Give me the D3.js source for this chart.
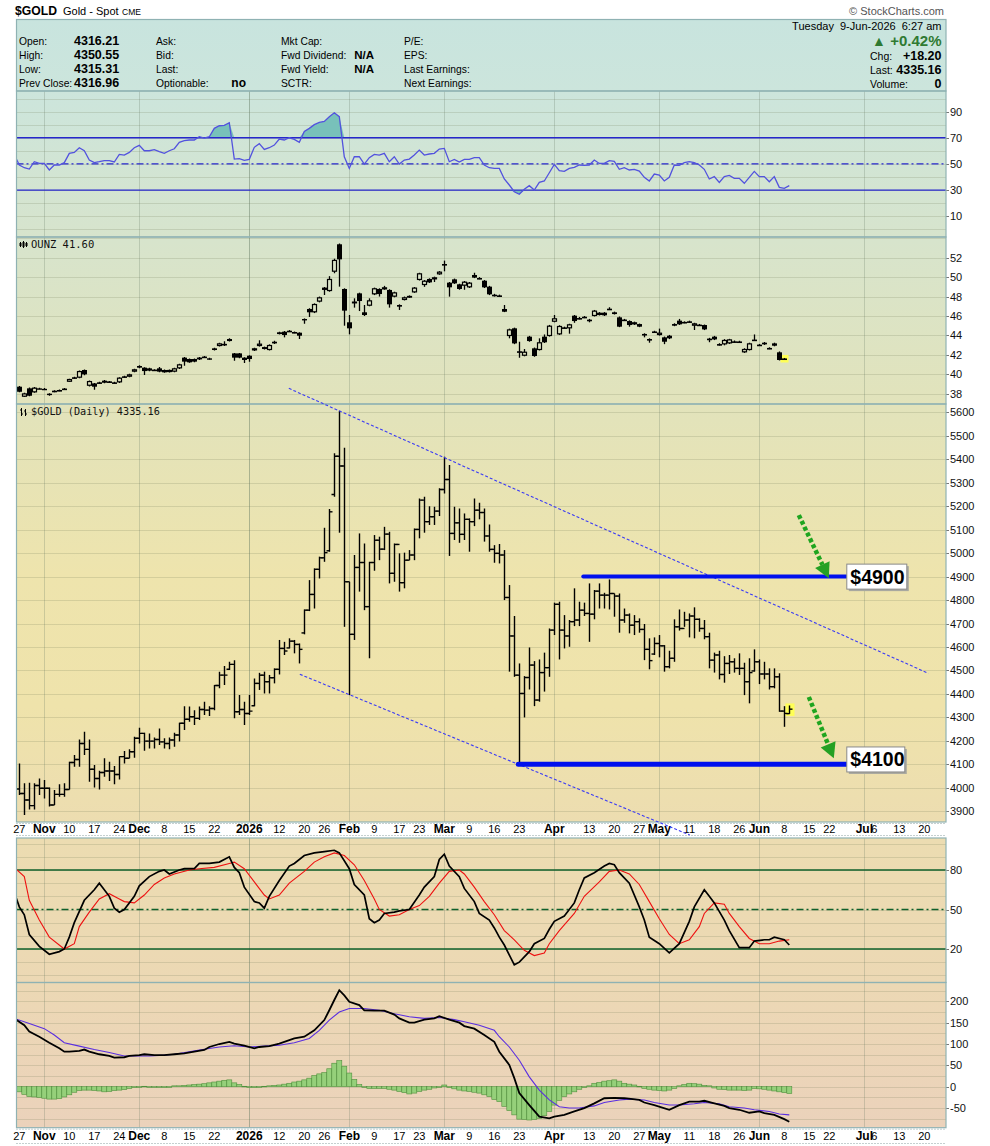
<!DOCTYPE html>
<html><head><meta charset="utf-8"><title>$GOLD</title>
<script src="https://cdn.jsdelivr.net/npm/d3@7/dist/d3.min.js"></script>
<style>html,body{margin:0;padding:0;background:#fff}</style>
</head><body>
<svg id="chart" width="990" height="1146" xmlns="http://www.w3.org/2000/svg"></svg>
<script>
// ================= DATA =================
const holidays = ["2025-11-27","2025-12-25","2026-01-01","2026-01-19","2026-02-16","2026-04-03","2026-05-25","2026-06-19","2026-07-03"];
const monthStarts = ["2025-11-03","2025-12-01","2026-01-02","2026-02-02","2026-03-02","2026-04-01","2026-05-01","2026-06-01","2026-07-01"];
const yearStart = "2026-01-02";
const xTickLabels = [
 ["2025-10-27","27",0],["2025-11-03","Nov",1],["2025-11-10","10",0],["2025-11-17","17",0],["2025-11-24","24",0],
 ["2025-12-01","Dec",1],["2025-12-08","8",0],["2025-12-15","15",0],["2025-12-22","22",0],["2026-01-02","2026",1],
 ["2026-01-12","12",0],["2026-01-20","20",0],["2026-01-26","26",0],["2026-02-02","Feb",1],["2026-02-09","9",0],
 ["2026-02-17","17",0],["2026-02-23","23",0],["2026-03-02","Mar",1],["2026-03-09","9",0],["2026-03-16","16",0],
 ["2026-03-23","23",0],["2026-04-01","Apr",1],["2026-04-13","13",0],["2026-04-20","20",0],["2026-04-27","27",0],
 ["2026-05-01","May",1],["2026-05-11","11",0],["2026-05-18","18",0],["2026-05-26","26",0],["2026-06-01","Jun",1],
 ["2026-06-08","8",0],["2026-06-15","15",0],["2026-06-22","22",0],["2026-07-01","Jul",1],["2026-07-06","6",0],
 ["2026-07-13","13",0],["2026-07-20","20",0]
];
const rsiTicks = [10,30,50,70,90];
const ounzTicks = [38,40,42,44,46,48,50,52];
const goldTicks = [3900,4000,4100,4200,4300,4400,4500,4600,4700,4800,4900,5000,5100,5200,5300,5400,5500,5600];
const stochTicks = [20,50,80];
const macdTicks = [-50,0,50,100,150,200];

// $GOLD daily OHLC (day 0 = 27-Oct-2025)
const goldOpen = [3995,3976,3948,3924,4010,3998,3998,3927,3972,3972,
3993,4108,4121,4189,4164,4079,4040,4065,4072,4072,
4057,4133,4126,4154,4211,4232,4199,4199,4206,4196,
4189,4204,4225,4275,4292,4303,4296,4334,4331,4338,
4436,4480,4505,4526,4324,4334,4317,4350,4445,4480,
4452,4469,4505,4594,4596,4625,4611,4660,4757,4824,
4931,4980,5010,5250,5413,5371,4878,4654,4939,4960,
4772,4960,5055,5017,5081,4914,5037,4874,4970,4992,
5101,5226,5134,5155,5179,5271,5314,5084,5129,5080,
5144,5134,5183,5173,5073,5016,4999,4992,4811,4647,
4480,4402,4470,4523,4374,4491,4512,4672,4782,4672,
4647,4708,4715,4757,4743,4740,4838,4821,4821,4828,
4817,4715,4736,4693,4708,4675,4590,4570,4615,4605,
4516,4552,4686,4679,4715,4732,4718,4679,4644,4544,
4566,4483,4530,4537,4509,4509,4452,4498,4537,4485,
4485,4431,4473,4327,4316];
const goldHigh = [4104,4019,4022,4019,4040,4033,4001,3991,4015,4019,
4111,4140,4206,4239,4206,4097,4073,4126,4111,4093,
4135,4157,4164,4218,4256,4235,4232,4214,4253,4211,
4214,4235,4277,4348,4346,4331,4346,4367,4348,4438,
4495,4519,4537,4544,4395,4367,4395,4466,4490,4495,
4481,4509,4630,4622,4637,4630,4615,4760,4885,4935,
4985,5108,5188,5425,5607,5449,4878,4992,5084,5041,
4963,5077,5070,5112,5091,5041,4999,5002,5013,5105,
5233,5240,5200,5198,5276,5411,5375,5198,5190,5169,
5148,5233,5215,5190,5122,5034,5039,5013,4864,4732,
4530,4476,4598,4540,4547,4576,4679,4789,4793,4736,
4715,4850,4793,4789,4871,4843,4871,4831,4888,4828,
4828,4764,4743,4736,4722,4698,4637,4641,4651,4608,
4584,4718,4760,4750,4743,4769,4722,4715,4661,4576,
4584,4561,4566,4552,4573,4533,4552,4590,4547,4537,
4509,4509,4488,4348,4351];
const goldLow = [3969,3884,3908,3908,3969,3955,3920,3927,3962,3962,
3993,4090,4090,4140,4026,4001,3993,4047,4029,4015,
4036,4104,4126,4128,4189,4158,4168,4168,4182,4168,
4164,4175,4197,4246,4282,4268,4289,4310,4306,4331,
4424,4438,4502,4296,4310,4268,4310,4348,4417,4402,
4402,4445,4483,4566,4594,4573,4530,4654,4753,4764,
4892,4963,5006,5240,5087,4686,4395,4630,4836,4757,
4552,4925,4970,5013,4871,4878,4836,4850,4970,4970,
5063,5087,5120,5120,5158,5254,4988,5056,5044,5056,
5006,5115,5144,5049,5006,4959,4956,4800,4495,4473,
4097,4300,4419,4348,4367,4410,4473,4651,4547,4594,
4601,4689,4689,4732,4622,4718,4764,4764,4760,4729,
4661,4703,4658,4651,4661,4544,4505,4566,4556,4495,
4509,4537,4670,4686,4641,4637,4665,4633,4509,4491,
4462,4448,4485,4491,4481,4395,4360,4495,4442,4462,
4419,4424,4324,4260,4315];
const goldClose = [3976,3948,3924,4010,3998,3998,3927,3972,3972,3993,
4108,4121,4189,4164,4079,4040,4065,4072,4072,4057,
4133,4126,4154,4211,4232,4199,4199,4206,4196,4189,
4204,4225,4275,4292,4303,4296,4334,4331,4338,4436,
4480,4480,4526,4324,4334,4317,4327,4445,4480,4452,
4469,4505,4594,4583,4625,4611,4590,4757,4824,4931,
4980,5002,5176,5413,5371,4878,4654,4939,4960,4772,
4960,5055,5017,5081,4914,5037,4874,4970,4992,5101,
5226,5134,5155,5179,5271,5314,5084,5129,5080,5144,
5134,5183,5173,5073,5016,4999,4992,4811,4647,4480,
4402,4470,4523,4374,4491,4512,4672,4782,4672,4647,
4708,4715,4757,4743,4740,4838,4821,4821,4828,4817,
4715,4736,4693,4708,4675,4590,4542,4615,4605,4516,
4552,4686,4679,4715,4732,4718,4679,4644,4544,4566,
4483,4530,4537,4509,4509,4452,4491,4537,4485,4485,
4431,4473,4327,4317,4335.16];

// OUNZ daily candles (day 0 .. 153)
const ounzOpen = [38.72,37.69,38.55,38.14,38.55,38.50,38.00,38.25,38.32,38.46,
39.23,39.62,39.65,40.44,38.82,39.06,39.10,39.34,39.20,39.12,
39.17,39.72,39.75,40.27,40.85,40.68,40.61,40.42,40.61,40.44,
40.23,40.27,40.61,41.71,41.57,41.57,41.54,41.76,41.64,42.67,
42.91,43.06,43.63,42.15,42.15,41.71,41.91,42.46,42.91,42.80,
42.50,43.35,44.32,44.38,44.42,44.30,44.28,45.69,46.72,46.38,
47.48,48.92,48.57,50.56,53.38,48.78,45.35,47.30,48.33,46.38,
47.06,48.23,48.78,48.74,48.68,47.99,47.13,47.65,47.89,48.43,
49.71,49.19,49.81,49.77,50.29,51.30,49.43,49.77,49.26,49.12,
48.95,50.22,49.86,49.63,49.02,48.14,48.07,46.72,43.94,44.73,
42.30,41.91,43.87,42.67,42.50,43.87,43.94,45.41,44.11,44.78,
44.73,46.03,45.74,45.87,45.57,46.00,46.34,46.34,46.70,46.38,
45.86,45.58,45.48,45.14,45.17,44.10,43.58,44.36,44.04,43.80,
43.97,45.17,45.52,45.34,45.40,45.00,45.06,45.07,43.62,43.87,
43.06,43.08,43.18,43.34,43.33,42.26,42.50,43.52,43.00,43.25,
42.66,43.18,42.26,41.58];
const ounzHigh = [38.80,38.10,38.65,38.68,38.62,38.58,38.05,38.35,38.42,38.58,
39.55,39.75,40.40,40.50,39.35,39.10,39.22,39.40,39.32,39.22,
39.70,39.85,40.05,40.58,40.92,40.72,40.66,40.52,40.75,40.50,
40.50,40.66,41.08,41.78,41.62,41.62,41.78,41.88,41.70,42.72,
43.25,43.40,43.70,42.20,42.20,41.75,41.95,42.72,43.50,42.85,
43.08,43.45,44.38,44.45,44.55,44.40,44.32,45.75,46.80,47.30,
48.00,48.98,50.10,51.90,53.45,48.85,46.10,47.82,48.40,47.13,
47.82,48.92,48.85,49.10,48.75,48.50,47.20,48.00,48.12,48.98,
50.45,49.70,49.88,50.05,50.62,51.70,49.50,49.85,49.32,49.60,
49.50,50.45,50.00,49.70,49.10,48.28,48.20,47.13,44.70,44.80,
43.35,42.60,43.95,42.75,43.70,44.10,45.08,46.10,45.05,44.90,
45.20,46.10,45.90,46.00,45.70,46.62,46.40,46.40,46.90,46.45,
45.95,45.70,45.55,45.42,45.22,44.22,43.70,44.48,44.70,43.88,
44.05,45.25,45.70,45.45,45.52,45.30,45.18,45.12,43.75,43.95,
43.20,43.62,43.65,43.48,43.45,42.68,43.25,44.10,43.12,43.32,
42.78,43.25,42.35,41.68];
const ounzLow = [38.15,37.65,37.75,38.10,38.45,38.40,37.80,38.15,38.25,38.40,
39.20,39.55,39.60,39.90,38.75,38.40,39.02,39.08,39.12,39.05,
39.10,39.65,39.70,40.22,40.62,39.92,40.30,40.35,40.22,40.15,
40.18,40.22,40.55,40.88,41.18,41.25,41.48,41.70,41.50,42.45,
42.85,42.90,43.38,41.40,41.65,41.15,41.30,42.40,42.85,42.55,
42.45,43.12,44.10,43.80,44.35,44.22,43.63,45.20,45.90,46.30,
47.40,48.16,48.50,50.40,49.02,45.00,44.11,46.86,46.51,46.00,
47.00,48.15,48.00,48.70,46.86,47.92,46.62,47.60,47.85,48.38,
49.65,49.00,49.40,49.50,50.24,50.60,47.99,49.30,48.70,48.70,
48.88,49.90,49.78,48.88,48.15,48.00,47.95,46.40,43.70,43.10,
41.70,41.85,43.35,41.80,42.45,43.22,43.88,45.35,44.05,44.70,
44.18,45.30,45.65,45.78,45.35,45.95,46.05,46.00,46.62,46.15,
44.85,45.50,44.90,45.08,44.85,43.80,43.25,44.28,43.98,43.10,
43.62,44.95,45.08,45.25,45.32,44.56,44.98,44.55,43.30,43.52,
42.95,42.98,43.12,43.25,43.25,42.20,42.45,43.45,42.92,43.02,
42.58,42.88,41.42,41.52];
const ounzClose = [38.20,38.03,37.79,38.62,38.52,38.46,37.86,38.28,38.35,38.50,
39.51,39.66,40.33,39.99,39.30,38.72,39.14,39.13,39.24,39.14,
39.65,39.76,39.99,40.51,40.68,40.33,40.37,40.45,40.27,40.20,
40.44,40.61,41.02,41.30,41.23,41.30,41.71,41.79,41.54,42.50,
43.18,43.10,43.42,41.71,41.71,41.47,41.57,42.67,43.15,42.60,
43.01,43.18,44.14,44.04,44.45,44.32,43.97,45.55,46.38,47.23,
47.92,48.68,49.81,51.77,51.83,46.55,44.73,47.48,47.54,46.10,
47.61,48.85,48.26,48.95,47.20,48.43,46.96,47.92,48.06,48.92,
50.39,49.63,49.46,49.98,50.56,51.32,48.95,49.36,48.78,49.53,
49.43,49.95,49.88,48.95,48.23,48.16,48.09,46.44,44.62,43.18,
42.34,42.32,43.42,41.88,43.29,43.29,45.00,45.76,44.97,44.80,
45.14,45.48,45.76,45.89,45.59,46.55,46.10,46.07,46.72,46.20,
44.90,45.60,45.07,45.35,44.90,44.12,43.60,44.38,44.28,43.35,
43.70,45.00,45.14,45.36,45.42,45.24,45.08,44.62,43.64,43.59,
43.08,43.53,43.59,43.36,43.35,42.60,43.18,43.54,43.02,43.08,
42.68,42.94,41.47,41.60];

// RSI(14) of $GOLD, first value is day -1
const rsiFirstDay = -1;
const rsiValues = [57.0,
49.2,47.1,46.1,51.7,50.4,50.4,45.4,49.2,49.2,51.0,
58.1,58.8,62.4,60.1,53.0,51.0,51.7,52.5,52.5,51.5,
57.3,56.8,58.8,62.4,64.2,60.1,60.1,60.9,59.4,58.1,
60.1,61.6,66.5,67.8,68.3,68.3,70.8,69.8,70.8,77.2,
79.2,79.5,81.5,53.7,54.0,52.7,53.5,62.7,65.5,61.1,
62.4,64.4,69.0,68.3,70.0,68.8,66.5,74.9,77.2,80.0,
81.7,82.5,86.1,89.1,86.1,55.5,46.6,55.5,55.5,49.9,
54.8,57.3,56.8,58.1,51.7,55.5,49.9,53.0,53.7,56.8,
60.6,56.8,57.6,58.1,61.4,61.9,51.7,53.5,51.5,53.5,
53.5,54.8,54.8,49.2,47.1,46.6,46.6,38.5,33.9,28.8,
26.8,30.6,33.4,30.1,35.9,37.0,43.3,49.7,44.8,44.3,
46.6,47.4,49.2,48.9,49.2,53.0,50.4,50.4,52.5,52.0,
45.9,47.1,45.4,45.9,44.6,39.8,37.0,42.3,41.5,37.0,
39.8,49.2,48.9,51.0,51.7,51.0,49.2,45.9,38.5,40.3,
35.9,40.3,41.3,39.0,39.0,35.2,39.8,44.3,40.3,40.3,
36.4,40.3,32.1,31.4,33.4];

// Slow stochastic [day, value]
const stochK = [[-1,63],[0,52],[1,46],[2,31],[4,22],[6,16],[8,18],[9,20],[10,29],[11,40],[13,57],[15,65],[16,70],[18,60],[19,51],[20,48],[21,50],[23,60],[24,68],[26,75],[28,79],[29,80],[30,77],[32,80],[33,81],[35,81],[36,85],[38,85],[40,86],[42,90],[43,82],[44,78],[45,67],[47,56],[48,55],[49,51],[50,60],[52,72],[54,83],[55,85],[57,91],[59,93],[61,94],[63,95],[64,93],[66,81],[67,69],[69,61],[70,43],[71,40],[72,42],[73,47],[75,48],[76,49],[78,50],[80,61],[81,67],[83,75],[84,88],[85,92],[86,83],[88,75],[89,66],[91,56],[92,47],[94,42],[95,36],[96,29],[97,23],[99,8],[100,10],[102,18],[103,24],[105,28],[106,35],[107,41],[109,45],[111,55],[112,65],[113,74],[115,78],[117,83],[118,85],[119,84],[120,78],[122,70],[124,52],[125,42],[126,29],[128,24],[130,17],[132,24],[134,41],[135,52],[137,65],[138,60],[139,55],[141,42],[142,34],[144,21],[146,21],[147,26],[149,27],[150,27],[151,29],[153,27],[154,23]];
const stochD = [[-1,82],[1,75],[2,57],[4,42],[6,29],[9,20],[11,24],[12,37],[14,48],[16,58],[18,62],[20,58],[21,56],[23,55],[25,61],[27,69],[29,74],[31,77],[34,80],[36,81],[39,82],[42,85],[43,86],[45,81],[47,71],[49,61],[50,58],[52,61],[54,70],[57,79],[59,86],[61,90],[63,93],[65,91],[67,84],[69,72],[71,58],[72,50],[74,45],[76,46],[78,50],[80,53],[82,60],[84,70],[86,79],[88,80],[89,77],[91,67],[93,56],[95,46],[97,34],[99,27],[101,19],[103,15],[105,17],[106,24],[108,34],[111,47],[113,60],[116,71],[118,79],[120,80],[122,77],[124,69],[126,56],[128,43],[130,31],[132,24],[134,27],[136,37],[137,47],[139,55],[141,54],[142,47],[144,37],[146,28],[148,24],[150,24],[152,26],[154,27]];

// MACD [day, value]
const macdLine = [[-1,160],[1,144],[2,129],[4,117],[6,103],[8,90],[9,82],[10,82],[12,84],[13,87],[14,82],[16,76],[18,72],[19,68],[21,69],[22,72],[24,74],[25,76],[27,74],[29,74],[31,76],[33,78],[35,82],[37,86],[38,93],[40,100],[42,105],[43,101],[45,96],[47,90],[48,93],[50,95],[52,101],[54,109],[55,113],[57,117],[59,132],[61,156],[62,179],[63,203],[64,226],[65,214],[66,199],[68,191],[69,179],[71,178],[73,178],[75,169],[76,160],[78,150],[79,150],[81,157],[83,160],[84,165],[86,157],[88,150],[89,142],[91,136],[93,121],[95,105],[96,82],[98,51],[99,20],[100,-15],[102,-43],[104,-70],[106,-74],[107,-70],[109,-66],[111,-58],[113,-50],[115,-39],[117,-27],[119,-26],[121,-27],[124,-31],[125,-37],[127,-43],[130,-54],[132,-43],[134,-35],[136,-35],[137,-33],[139,-39],[141,-45],[142,-50],[144,-54],[146,-61],[148,-58],[149,-62],[151,-66],[153,-76],[154,-82]];
const macdSignal = [[-1,160],[2,148],[5,136],[7,121],[9,103],[12,95],[15,87],[18,80],[21,72],[24,72],[26,72],[29,74],[31,76],[34,82],[36,86],[40,93],[43,96],[46,93],[49,95],[52,97],[55,103],[58,113],[60,132],[62,156],[64,175],[66,183],[69,183],[72,179],[75,171],[78,164],[81,160],[84,162],[87,157],[89,152],[92,144],[95,132],[96,117],[98,93],[100,62],[102,23],[104,-8],[106,-31],[108,-47],[110,-50],[112,-50],[115,-45],[117,-37],[120,-31],[122,-29],[125,-31],[127,-37],[130,-43],[132,-43],[135,-40],[137,-37],[140,-40],[142,-47],[145,-50],[147,-54],[150,-58],[152,-64],[154,-66]];
const macdHist = [-12,-18,-23,-24,-25,-27,-29,-29,-28,-24,
-19,-13,-9,-8,-8,-9,-10,-12,-11,-9,
-8,-7,-4,-2,0,1,0,-1,-1,-2,
0,2,2,3,4,5,6,7,9,11,
13,15,16,9,5,1,-2,-2,0,1,
2,3,4,6,8,11,13,16,20,26,
30,33,42,55,61,48,32,17,5,-1,
-4,-4,-4,-4,-6,-8,-11,-14,-17,-15,
-11,-8,-6,-3,-1,4,-2,-5,-8,-10,
-11,-13,-15,-19,-23,-30,-35,-46,-56,-66,
-76,-77,-78,-77,-74,-68,-58,-43,-32,-23,
-17,-12,-6,-2,2,8,10,13,14,16,
13,8,6,4,1,-4,-6,-8,-9,-10,
-8,-4,2,5,8,7,6,3,2,-3,
-6,-7,-8,-8,-8,-9,-8,-4,-5,-6,
-8,-10,-12,-14,-16];

// Annotations (day index, price)
const trendLines = [
  {d0:53.9, p0:5702, d1:181.8, p1:4488},
  {d0:56.1, p0:4484, d1:134.1, p1:3799}
];
const levelLines = [
  {price:4900, d0:112.8, d1:165.4, width:4, label:"$4900", boxPrice:4902, boxW:60},
  {price:4100, d0:99.8, d1:165.4, width:5, label:"$4100", boxPrice:4123, boxW:58}
];
const arrows = [
  {d0:155.9, p0:5162, d1:161.9, p1:4893},
  {d0:157.9, p0:4387, d1:162.9, p1:4126}
];

const headerLeft = [
  ["Open:","4316.21","Ask:","","Mkt Cap:","","P/E:"],
  ["High:","4350.55","Bid:","","Fwd Dividend:","N/A","EPS:"],
  ["Low:","4315.31","Last:","","Fwd Yield:","N/A","Last Earnings:"],
  ["Prev Close:","4316.96","Optionable:","no","SCTR:","","Next Earnings:"]
];
const headerRight = [["Chg:","+18.20"],["Last:","4335.16"],["Volume:","0"]];

// ================= RENDER =================
const FONT = '"Liberation Sans", Arial, Helvetica, sans-serif';
const MONO = '"DejaVu Sans Mono", "Liberation Mono", monospace';
const svg = d3.select('#chart');
svg.append('rect').attr('width',990).attr('height',1146).attr('fill','#fff');
const defs = svg.append('defs');
const bg = defs.append('linearGradient').attr('id','bg').attr('gradientUnits','userSpaceOnUse')
  .attr('x1',0).attr('y1',19).attr('x2',0).attr('y2',1128);
[[0,"#c8e4de"],[0.065,"#cce5dc"],[0.2,"#d7e4cc"],[0.35,"#e2e3bb"],[0.5,"#eee4ad"],[0.62,"#efe3ab"],[0.74,"#ecdcb1"],[0.87,"#ecd8b4"],[1,"#ebd2bb"]]
  .forEach(([o,c]) => bg.append('stop').attr('offset',o).attr('stop-color',c));

const tradingDays = [];
for (let t = Date.UTC(2025,9,27); t <= Date.UTC(2026,7,20); t += 86400000) {
  const d = new Date(t), wd = d.getUTCDay(), s = d.toISOString().slice(0,10);
  if (wd === 0 || wd === 6 || holidays.includes(s)) continue;
  tradingDays.push(s);
}
const dayOf = s => tradingDays.indexOf(s);

const xL = 16.5, xR = 946;
const x = d3.scaleLinear().domain([-0.56, 185.34]).range([xL, xR]);
const px = i => Math.round(x(i)) + 0.5;

const panels = {
  rsi:   {top:91,    bottom:237,    y:d3.scaleLinear().domain([0,100]).range([229.4,98.5]),   grid:d3.range(0,101,10), ticks:rsiTicks},
  ounz:  {top:237,   bottom:404,    y:d3.scaleLinear().domain([38,52]).range([393.7,257.7]),  grid:d3.range(36,56,2),  ticks:ounzTicks},
  gold:  {top:404,   bottom:822,    y:d3.scaleLinear().domain([3900,5600]).range([811.3,412.3]), grid:d3.range(3800,5701,100), ticks:goldTicks},
  stoch: {top:838,   bottom:982.5,  y:d3.scaleLinear().domain([0,100]).range([975.3,843.7]),  grid:d3.range(0,101,10), ticks:stochTicks},
  macd:  {top:982.5, bottom:1127.7, y:d3.scaleLinear().domain([-50,200]).range([1108.05,1001.3]), grid:d3.range(-100,251,25), ticks:macdTicks}
};

Object.entries(panels).forEach(([id,p]) => {
  svg.append('rect').attr('x',xL).attr('y',p.top).attr('width',xR-xL).attr('height',p.bottom-p.top).attr('fill','url(#bg)');
  defs.append('clipPath').attr('id','clip-'+id).append('rect')
    .attr('x',xL).attr('y',p.top).attr('width',xR-xL).attr('height',p.bottom-p.top);
  const gg = svg.append('g').attr('clip-path',`url(#clip-${id})`);
  p.grid.forEach(v => {
    const yy = Math.round(p.y(v)) + 0.5;
    gg.append('line').attr('x1',xL).attr('x2',xR).attr('y1',yy).attr('y2',yy)
      .attr('stroke','#6f7a55').attr('stroke-opacity',0.2).attr('stroke-width',1);
  });
  monthStarts.forEach(s => {
    const xx = px(dayOf(s));
    gg.append('line').attr('x1',xx).attr('x2',xx).attr('y1',p.top).attr('y2',p.bottom)
      .attr('stroke','#5f7560').attr('stroke-opacity', s === yearStart ? 0.45 : 0.25).attr('stroke-width',1);
  });
  p.layer = svg.append('g').attr('clip-path',`url(#clip-${id})`);
  p.ticks.forEach(v => {
    const yy = p.y(v);
    svg.append('line').attr('x1',xR).attr('x2',xR+3).attr('y1',Math.round(yy)+0.5).attr('y2',Math.round(yy)+0.5)
      .attr('stroke','#777').attr('stroke-width',1);
    svg.append('text').attr('x',950).attr('y',yy+4).attr('font-family',FONT).attr('font-size',11)
      .attr('fill','#111').text(v);
  });
});

// header
svg.append('rect').attr('x',xL).attr('y',19.5).attr('width',xR-xL).attr('height',71.5)
  .attr('fill','url(#bg)').attr('stroke','#8fb2b3').attr('stroke-width',1.2);
const hd = svg.append('g').attr('font-family',FONT).attr('fill','#000');
hd.append('text').attr('x',15).attr('y',15).attr('font-size',13).attr('font-weight','bold')
  .attr('textLength',42).attr('lengthAdjust','spacingAndGlyphs').text('$GOLD');
hd.append('text').attr('x',63).attr('y',15).attr('font-size',11).text('Gold - Spot');
hd.append('text').attr('x',122).attr('y',15).attr('font-size',8.5).text('CME');
hd.append('text').attr('x',944).attr('y',15).attr('font-size',11).attr('fill','#555').attr('text-anchor','end').text('\u00A9 StockCharts.com');
headerLeft.forEach((r,k) => {
  const yy = 45 + k*14;
  hd.append('text').attr('x',19).attr('y',yy).attr('font-size',10.3).text(r[0]);
  hd.append('text').attr('x',74).attr('y',yy).attr('font-size',12.5).attr('font-weight','bold').text(r[1]);
  hd.append('text').attr('x',156).attr('y',yy).attr('font-size',10.3).text(r[2]);
  if (r[3]) hd.append('text').attr('x',246).attr('y',yy).attr('text-anchor','end').attr('font-size',12).attr('font-weight','bold').text(r[3]);
  hd.append('text').attr('x',281).attr('y',yy).attr('font-size',10.3).text(r[4]);
  if (r[5]) hd.append('text').attr('x',374).attr('y',yy).attr('text-anchor','end').attr('font-size',11.5).attr('font-weight','bold').text(r[5]);
  hd.append('text').attr('x',404).attr('y',yy).attr('font-size',10.3).text(r[6]);
});
hd.append('text').attr('x',941.5).attr('y',30).attr('font-size',11).attr('text-anchor','end').attr('xml:space','preserve').text('Tuesday  9-Jun-2026  6:27 am');
hd.append('text').attr('x',941.5).attr('y',46).attr('font-size',15).attr('font-weight','bold').attr('fill','#2f7a32').attr('text-anchor','end').text('+0.42%');
hd.append('text').attr('x',872).attr('y',46).attr('font-size',14).attr('fill','#2f7a32').text('\u25B2');
headerRight.forEach((r,k) => {
  const yy = 60 + k*14;
  hd.append('text').attr('x',870).attr('y',yy).attr('font-size',10.5).text(r[0]);
  hd.append('text').attr('x',941.5).attr('y',yy).attr('font-size',12.5).attr('font-weight','bold').attr('text-anchor','end').text(r[1]);
});

// ---- RSI ----
{
  const p = panels.rsi, y = p.y, L = p.layer;
  const pts = rsiValues.map((v,k) => [rsiFirstDay + k, v]);
  L.append('path').datum(pts).attr('fill','#78c1ba')
    .attr('d', d3.area().x(d => x(d[0])).y0(y(70)).y1(d => y(Math.max(d[1],70))));
  L.append('path').datum(pts).attr('fill','#78c1ba')
    .attr('d', d3.area().x(d => x(d[0])).y0(y(30)).y1(d => y(Math.min(d[1],30))));
  [[70,null],[30,null],[50,'7,3,2,3']].forEach(([v,dash]) => {
    L.append('line').attr('x1',xL).attr('x2',xR).attr('y1',y(v)).attr('y2',y(v))
      .attr('stroke','#2626cc').attr('stroke-width',1.3).attr('stroke-dasharray',dash);
  });
  L.append('path').datum(pts).attr('fill','none').attr('stroke','#5252de').attr('stroke-width',1.3)
    .attr('d', d3.line().x(d => x(d[0])).y(d => y(d[1])));
}

// ---- OUNZ candles ----
{
  const p = panels.ounz, y = p.y, L = p.layer;
  const last = ounzClose.length - 1;
  L.append('rect').attr('x',px(last)-4).attr('y',y(ounzHigh[last])-3).attr('width',8).attr('height',y(ounzLow[last])-y(ounzHigh[last])+6).attr('fill','#ffff55');
  ounzClose.forEach((c,i) => {
    const o = ounzOpen[i], xx = px(i);
    L.append('line').attr('x1',xx).attr('x2',xx).attr('y1',y(ounzHigh[i])).attr('y2',y(ounzLow[i])).attr('stroke','#000').attr('stroke-width',1.3);
    const top = y(Math.max(o,c)), h = Math.max(y(Math.min(o,c)) - top, 1.4);
    if (c < o) {
      L.append('rect').attr('x',xx-2.5).attr('y',top).attr('width',5).attr('height',h).attr('fill','#000');
    } else if (h <= 1.5) {
      L.append('rect').attr('x',xx-2.5).attr('y',top-0.3).attr('width',5).attr('height',1.6).attr('fill','#000');
    } else {
      L.append('rect').attr('x',xx-2).attr('y',top+0.5).attr('width',4).attr('height',h-1).attr('fill','url(#bg)').attr('stroke','#000').attr('stroke-width',1.2);
    }
  });
  // legend icon: tiny candles
  const ic = svg.append('g').attr('fill','#000').attr('stroke','#000').attr('stroke-width',1);
  [[20.5,242,247,243,246],[23.5,241,248,242,247],[26.5,242,247,243,246]].forEach(([cx,t,b,bt,bb]) => {
    ic.append('line').attr('x1',cx).attr('x2',cx).attr('y1',t).attr('y2',b);
    ic.append('rect').attr('x',cx-1).attr('y',bt).attr('width',2).attr('height',bb-bt).attr('stroke','none');
  });
  svg.append('text').attr('x',31).attr('y',248).attr('font-family',MONO).attr('font-size',10.5).attr('fill','#111').text('OUNZ 41.60');
}

// ---- GOLD bars ----
{
  const p = panels.gold, y = p.y, L = p.layer;
  const last = goldClose.length - 1;
  L.append('rect').attr('x',px(last)-4).attr('y',y(goldHigh[last])-2).attr('width',9).attr('height',y(goldLow[last])-y(goldHigh[last])+4).attr('fill','#ffff55');
  const b = L.append('g').attr('stroke','#000').attr('stroke-width',1.4);
  goldClose.forEach((c,i) => {
    const xx = px(i);
    b.append('line').attr('x1',xx).attr('x2',xx).attr('y1',y(goldHigh[i])).attr('y2',y(goldLow[i]));
    b.append('line').attr('x1',xx-3).attr('x2',xx).attr('y1',y(goldOpen[i])).attr('y2',y(goldOpen[i]));
    b.append('line').attr('x1',xx).attr('x2',xx+3).attr('y1',y(c)).attr('y2',y(c));
  });
  // legend icon: two tiny bars
  const ic = svg.append('g').attr('stroke','#000').attr('stroke-width',1);
  [[21.5,408,416],[25.5,409,416]].forEach(([cx,t,b2]) => {
    ic.append('line').attr('x1',cx).attr('x2',cx).attr('y1',t).attr('y2',b2);
    ic.append('line').attr('x1',cx-1.5).attr('x2',cx).attr('y1',t+2).attr('y2',t+2);
    ic.append('line').attr('x1',cx).attr('x2',cx+1.5).attr('y1',b2-2).attr('y2',b2-2);
  });
  svg.append('text').attr('x',31).attr('y',415).attr('font-family',MONO).attr('font-size',10.2).attr('fill','#111').text('$GOLD (Daily) 4335.16');
}

// ---- Stochastics ----
{
  const p = panels.stoch, y = p.y, L = p.layer;
  [[80,null],[20,null],[50,'7,3,2,3']].forEach(([v,dash]) => {
    L.append('line').attr('x1',xL).attr('x2',xR).attr('y1',y(v)).attr('y2',y(v))
      .attr('stroke','#0f5f2a').attr('stroke-width',1.4).attr('stroke-dasharray',dash);
  });
  const ln = d3.line().x(d => x(d[0])).y(d => y(d[1]));
  L.append('path').datum(stochD).attr('fill','none').attr('stroke','#ee1111').attr('stroke-width',1.1).attr('d',ln);
  L.append('path').datum(stochK).attr('fill','none').attr('stroke','#000').attr('stroke-width',1.7).attr('d',ln);
}

// ---- MACD ----
{
  const p = panels.macd, y = p.y, L = p.layer;
  macdHist.forEach((v,i) => {
    const y0 = y(0), y1 = y(v);
    L.append('rect').attr('x',x(i)-2.5).attr('y',Math.min(y0,y1)).attr('width',5).attr('height',Math.max(Math.abs(y1-y0),0.6))
      .attr('fill','#95d07a').attr('stroke','#4f8f3c').attr('stroke-width',0.6);
  });
  const ln = d3.line().x(d => x(d[0])).y(d => y(d[1]));
  L.append('path').datum(macdSignal).attr('fill','none').attr('stroke','#5a2ee0').attr('stroke-width',1.1).attr('d',ln);
  L.append('path').datum(macdLine).attr('fill','none').attr('stroke','#000').attr('stroke-width',1.8).attr('d',ln);
}

// panel borders
Object.values(panels).forEach(p => {
  svg.append('rect').attr('x',xL).attr('y',p.top).attr('width',xR-xL).attr('height',p.bottom-p.top)
    .attr('fill','none').attr('stroke','#8fb2b3').attr('stroke-width',1.2);
});

// x axis label rows
[[822.5,836.5,833],[1128.2,1144.5,1140]].forEach(([t,bt,base]) => {
  svg.append('rect').attr('x',xL).attr('y',t+0.7).attr('width',xR-xL).attr('height',bt-t-1.4).attr('fill','#fff');
  [t+1,bt-1].forEach(yy => svg.append('line').attr('x1',xL).attr('x2',xR).attr('y1',yy).attr('y2',yy)
    .attr('stroke','#8aa0a0').attr('stroke-width',1).attr('stroke-dasharray','1,2'));
  xTickLabels.forEach(([s,lab,bold]) => {
    svg.append('text').attr('x',x(dayOf(s))).attr('y',base).attr('text-anchor','middle')
      .attr('font-family',FONT).attr('font-size',bold ? 12 : 11).attr('font-weight',bold ? 'bold' : 'normal')
      .attr('fill','#000').text(lab);
  });
});

// ---- Annotations (over panels) ----
{
  const y = panels.gold.y;
  const an = svg.append('g');
  trendLines.forEach(t => {
    an.append('line').attr('x1',x(t.d0)).attr('y1',y(t.p0)).attr('x2',x(t.d1)).attr('y2',y(t.p1))
      .attr('stroke','#3b3bf5').attr('stroke-width',1.1).attr('stroke-dasharray','3,2');
  });
  levelLines.forEach(l => {
    const yy = y(l.price);
    an.append('line').attr('x1',x(l.d0)).attr('x2',x(l.d1)).attr('y1',yy).attr('y2',yy)
      .attr('stroke','#0010ee').attr('stroke-width',l.width).attr('stroke-linecap','round');
    const bx = x(l.d1), by = y(l.boxPrice) - 12.5;
    an.append('rect').attr('x',bx+2.5).attr('y',by+2.5).attr('width',l.boxW).attr('height',25).attr('fill','#a8a8a0');
    an.append('rect').attr('x',bx+0.5).attr('y',by+0.5).attr('width',l.boxW).attr('height',25).attr('fill','#fff').attr('stroke','#8a8a8a').attr('stroke-width',1);
    an.append('text').attr('x',bx+4).attr('y',by+20).attr('font-family',FONT).attr('font-size',19.5)
      .attr('font-weight','bold').attr('fill','#000').text(l.label);
  });
  arrows.forEach(a => {
    const x0 = x(a.d0), y0 = y(a.p0), x1 = x(a.d1), y1 = y(a.p1);
    const dx = x1-x0, dy = y1-y0, len = Math.hypot(dx,dy), ux = dx/len, uy = dy/len;
    const hl = 15, hw = 8;
    const bxp = x1 - ux*hl, byp = y1 - uy*hl;
    an.append('line').attr('x1',x0).attr('y1',y0).attr('x2',bxp).attr('y2',byp)
      .attr('stroke','#1fa51f').attr('stroke-width',4.5).attr('stroke-dasharray','4,2.5');
    an.append('polygon').attr('points',[[x1,y1],[bxp-uy*hw,byp+ux*hw],[bxp+uy*hw,byp-ux*hw]].map(q => q.join(',')).join(' '))
      .attr('fill','#24a024');
  });
}
</script>
</body></html>
